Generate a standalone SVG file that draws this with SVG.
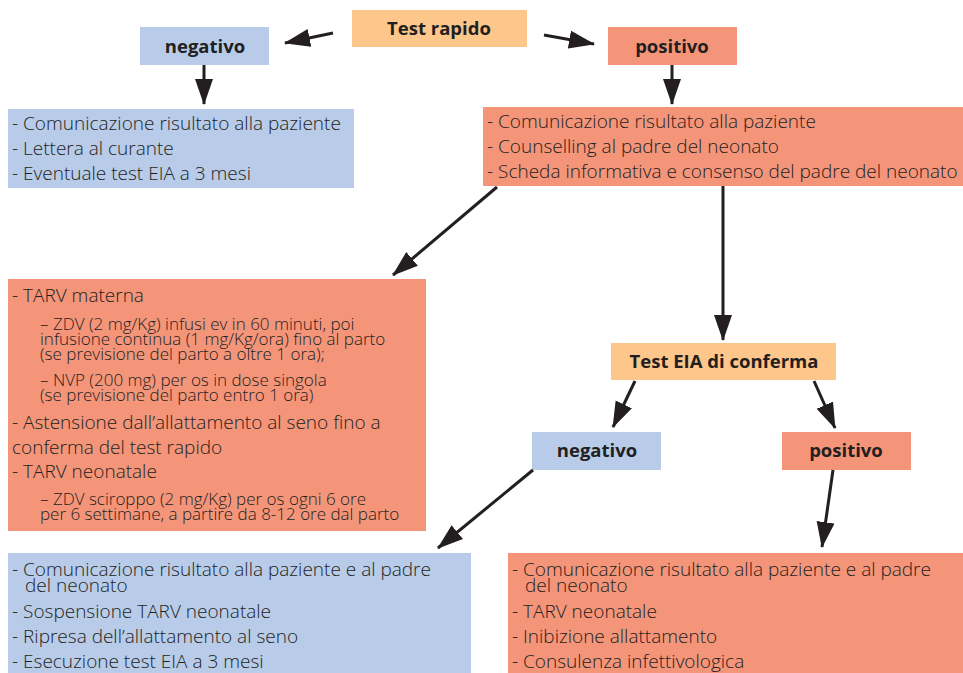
<svg xmlns="http://www.w3.org/2000/svg" width="963" height="673" viewBox="0 0 963 673">
<style>
.blue{fill:#B8CCEA}
.sal{fill:#F4957A}
.peach{fill:#FDC68A}
.lbl{font-family:"Open Sans","Liberation Sans",sans-serif;font-weight:700;font-size:18.5px;fill:#231F20;text-anchor:middle}
.t{font-family:"Open Sans","Liberation Sans",sans-serif;font-weight:300;font-size:19px;fill:#231F20}
.s{font-family:"Open Sans","Liberation Sans",sans-serif;font-weight:300;font-size:17px;fill:#231F20}
.c{stroke:#231F20;stroke-width:3;fill:none}
</style>
<defs>
<marker id="ah" markerUnits="userSpaceOnUse" markerWidth="28" markerHeight="20" refX="25" refY="9" orient="auto">
<path d="M0,0 L26,9 L0,18 Z" fill="#231F20"/>
</marker>
</defs>
<g id="test-rapido"><rect class="peach" x="352" y="10" width="175" height="37"/><text class="lbl" x="439" y="35">Test rapido</text></g>
<g id="negativo1"><rect class="blue" x="140" y="27" width="129" height="38"/><text class="lbl" x="205" y="53">negativo</text></g>
<g id="positivo1"><rect class="sal" x="608" y="27" width="129" height="38"/><text class="lbl" x="672" y="53">positivo</text></g>
<g id="neg-azioni"><rect class="blue" x="8" y="109" width="346" height="79"/>
<text class="t" x="12" y="130">- Comunicazione risultato alla paziente</text>
<text class="t" x="12" y="155">- Lettera al curante</text>
<text class="t" x="12" y="180">- Eventuale test EIA a 3 mesi</text></g>
<g id="pos-azioni"><rect class="sal" x="483" y="107" width="480" height="79"/>
<text class="t" x="487" y="128">- Comunicazione risultato alla paziente</text>
<text class="t" x="487" y="153">- Counselling al padre del neonato</text>
<text class="t" x="487" y="178">- Scheda informativa e consenso del padre del neonato</text></g>
<g id="tarv"><rect class="sal" x="8" y="279" width="418" height="252"/>
<text class="t" x="12" y="302">- TARV materna</text>
<text class="s" x="40" y="330">– ZDV (2 mg/Kg) infusi ev in 60 minuti, poi<tspan x="40" dy="15">infusione continua (1 mg/Kg/ora) fino al parto</tspan><tspan x="40" dy="15">(se previsione del parto a oltre 1 ora);</tspan></text>
<text class="s" x="40" y="386">– NVP (200 mg) per os in dose singola<tspan x="40" dy="15">(se previsione del parto entro 1 ora)</tspan></text>
<text class="t" x="12" y="429">- Astensione dall’allattamento al seno fino a<tspan x="12" dy="25">conferma del test rapido</tspan></text>
<text class="t" x="12" y="478">- TARV neonatale</text>
<text class="s" x="40" y="505">– ZDV sciroppo (2 mg/Kg) per os ogni 6 ore<tspan x="40" dy="15">per 6 settimane, a partire da 8-12 ore dal parto</tspan></text></g>
<g id="test-eia"><rect class="peach" x="611" y="343" width="225" height="37"/><text class="lbl" x="724" y="368">Test EIA di conferma</text></g>
<g id="negativo2"><rect class="blue" x="532" y="432" width="129" height="38"/><text class="lbl" x="597" y="457">negativo</text></g>
<g id="positivo2"><rect class="sal" x="782" y="432" width="129" height="38"/><text class="lbl" x="846" y="457">positivo</text></g>
<g id="neg2-azioni"><rect class="blue" x="8" y="553" width="463" height="120"/>
<text class="t" x="12" y="576">- Comunicazione risultato alla paziente e al padre<tspan x="25" dy="16">del neonato</tspan></text>
<text class="t" x="12" y="618">- Sospensione TARV neonatale</text>
<text class="t" x="12" y="643">- Ripresa dell’allattamento al seno</text>
<text class="t" x="12" y="668">- Esecuzione test EIA a 3 mesi</text></g>
<g id="pos2-azioni"><rect class="sal" x="508" y="553" width="455" height="120"/>
<text class="t" x="512" y="576">- Comunicazione risultato alla paziente e al padre<tspan x="525" dy="16">del neonato</tspan></text>
<text class="t" x="512" y="618">- TARV neonatale</text>
<text class="t" x="512" y="643">- Inibizione allattamento</text>
<text class="t" x="512" y="668">- Consulenza infettivologica</text></g>
<g id="connectors">
<line class="c" x1="333" y1="33" x2="285" y2="43" marker-end="url(#ah)"/>
<line class="c" x1="544" y1="35" x2="594" y2="44" marker-end="url(#ah)"/>
<line class="c" x1="204" y1="65" x2="204" y2="104" marker-end="url(#ah)"/>
<line class="c" x1="672" y1="65" x2="672" y2="104" marker-end="url(#ah)"/>
<line class="c" x1="497" y1="187" x2="393" y2="275" marker-end="url(#ah)"/>
<line class="c" x1="723" y1="186" x2="723" y2="340" marker-end="url(#ah)"/>
<line class="c" x1="635" y1="381" x2="613" y2="427" marker-end="url(#ah)"/>
<line class="c" x1="814" y1="381" x2="835" y2="428" marker-end="url(#ah)"/>
<line class="c" x1="533" y1="470" x2="438" y2="548" marker-end="url(#ah)"/>
<line class="c" x1="833" y1="470" x2="822" y2="547" marker-end="url(#ah)"/>
</g>
</svg>
